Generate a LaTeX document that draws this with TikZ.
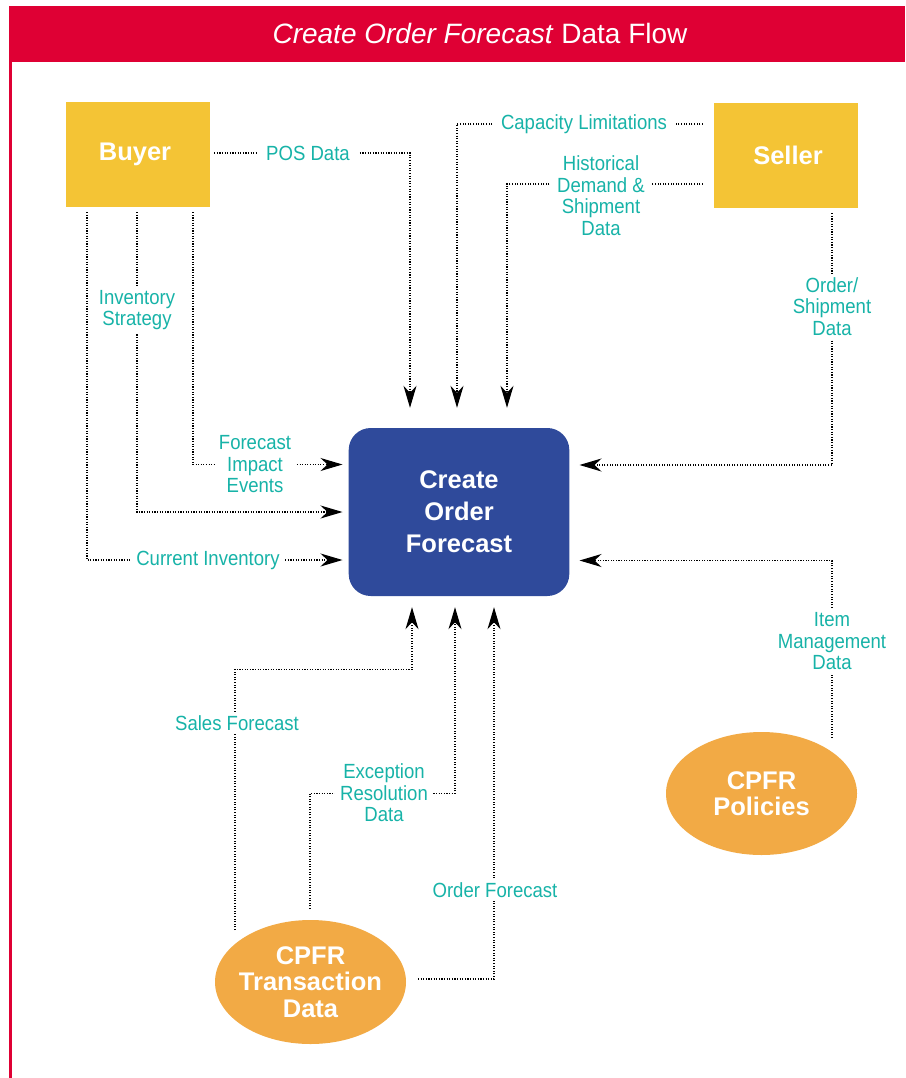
\documentclass[tikz,border=0pt]{standalone}
\usepackage{fontspec}
\setmainfont{Liberation Sans}
\newfontfamily\lblfont[FakeStretch=0.905]{Liberation Sans}
\usetikzlibrary{arrows.meta,shapes.geometric}

\definecolor{bandred}{HTML}{DF0034}
\definecolor{partyyellow}{HTML}{F4C435}
\definecolor{storeorange}{HTML}{F2AA45}
\definecolor{procblue}{HTML}{2F4A9B}
\definecolor{flowteal}{HTML}{17B3A8}

\begin{document}
\begin{tikzpicture}[x=1pt,y=-1pt,
  flow/.style={line width=1.1pt, dash pattern=on 1.1pt off 1.5pt,
    -{Stealth[length=22pt,width=13pt,inset=7pt]}},
  lbl/.style={font=\lblfont\fontsize{20.5}{21.5}\selectfont, text=flowteal,
    fill=white, inner xsep=6pt, inner ysep=3pt, align=center},
  party/.style={fill=partyyellow, minimum width=144pt, minimum height=105pt,
    inner sep=0pt, text=white, font=\bfseries\fontsize{25.5}{30}\selectfont},
  store/.style={ellipse, fill=storeorange, inner xsep=-12pt, inner ysep=0pt,
    text=white, align=center, font=\bfseries\fontsize{25.5}{26.5}\selectfont},
  process/.style={fill=procblue, rounded corners=22pt, minimum width=220.6pt,
    minimum height=168pt, inner sep=0pt, text=white, align=center,
    font=\bfseries\fontsize{25.5}{32}\selectfont}
]
% page and frame
\useasboundingbox (0,0) rectangle (905,1078);
\fill[white] (0,0) rectangle (905,1078);
\fill[bandred] (9,6) rectangle (905,62);
\fill[bandred] (9,62) rectangle (11.5,1078);
\node[text=white, font=\fontsize{28}{30}\selectfont] (title) at (480,34)
  {\textit{Create Order Forecast} Data Flow};

% entities, process and data stores
\node[party] (buyer) at (138,154.5) {\hspace*{-6pt}Buyer};
\node[party] (seller) at (786,155.5) {\hspace*{4pt}Seller};
\node[process] (cof) at (459,512) {Create\\Order\\Forecast};
\node[store, minimum width=191pt, minimum height=124pt] (ctd) at (310.5,982)
  {CPFR\\Transaction\\Data};
\node[store, minimum width=191pt, minimum height=123pt] (pol) at (761.5,793.5)
  {CPFR\\Policies};

% flows into the top of the process
\draw[flow, shorten >=20pt] ([xshift=4pt,yshift=1.5pt]buyer.east)
  -| ([xshift=-49pt]cof.north);
\draw[flow, shorten >=20pt] ([xshift=-11pt,yshift=31.5pt]seller.west)
  -| ([xshift=-2pt]cof.north);
\draw[flow, shorten >=20pt] ([xshift=-11pt,yshift=-28.5pt]seller.west)
  -| ([xshift=48pt]cof.north);

% flows into the right side
\draw[flow, shorten >=10pt] ([xshift=46pt,yshift=-5pt]seller.south)
  |- ([yshift=47pt]cof.east);
\draw[flow, shorten >=10pt] ([xshift=70.5pt,yshift=55.5pt]pol.center)
  |- ([yshift=-48.5pt]cof.east);

% flows into the left side
\draw[flow, shorten >=6pt] ([xshift=55pt,yshift=-5pt]buyer.south)
  |- ([yshift=47.5pt]cof.west);
\draw[flow, shorten >=6pt] ([xshift=-1pt,yshift=-5pt]buyer.south)
  |- (cof.west);
\draw[flow, shorten >=6pt] ([xshift=-51pt,yshift=-5pt]buyer.south)
  |- ([yshift=-48pt]cof.west);

% flows into the bottom
\draw[flow, shorten >=11pt] ([xshift=-75.5pt,yshift=52pt]ctd.center)
  |- ([xshift=-47pt,yshift=-73pt]cof.south) -- ([xshift=-47pt]cof.south);
\draw[flow, shorten >=11pt] ([xshift=-0.5pt,yshift=73pt]ctd.center)
  |- ([xshift=-4pt,yshift=-197pt]cof.south) -- ([xshift=-4pt]cof.south);
\draw[flow, shorten >=11pt] ([xshift=107.5pt,yshift=3pt]ctd.center)
  -| ([xshift=35pt]cof.south);

% flow labels
\node[lbl, inner xsep=9pt] (lpos) at (308,153) {POS Data};
\node[lbl, inner xsep=8pt] (lcap) at (584,124) {Capacity Limitations};
\node[lbl] (lhist) at (601,195.5) {Historical\\Demand \&\\Shipment\\Data};
\node[lbl] (lord) at (832,306.5) {Order/\\Shipment\\Data};
\node[lbl] (litem) at (832,641.5) {Item\\Management\\Data};
\node[lbl, inner xsep=4pt] (lfie) at (255,464.5) {Forecast\\Impact\\Events};
\node[lbl] (linv) at (137,310) {Inventory\\Strategy};
\node[lbl, inner xsep=5pt] (lcur) at (208,560) {Current Inventory};
\node[lbl] (lsales) at (237,723) {Sales Forecast};
\node[lbl, inner xsep=5pt] (lexc) at (384,793) {Exception\\Resolution\\Data};
\node[lbl] (lofc) at (495,890) {Order Forecast};
\end{tikzpicture}
\end{document}
